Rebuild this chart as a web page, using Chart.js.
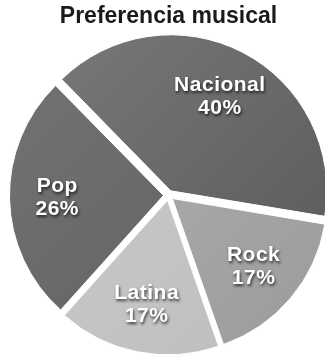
<!DOCTYPE html>
<html lang="es">
<head>
<meta charset="utf-8">
<title>Preferencia musical</title>
<script src="https://cdn.jsdelivr.net/npm/chart.js@4/dist/chart.umd.min.js"></script>
<style>
    html, body { margin: 0; padding: 0; overflow: hidden; background: #fff; }
    canvas { display: block; }
</style>
</head>
<body>
<canvas id="musicChart" width="337" height="359"></canvas>
<script>
// Data
const generos = ['Nacional', 'Rock', 'Latina', 'Pop'];
const porcentajes = [40, 17, 17, 26];

// Gray tones per slice: [light, dark] for a soft diagonal shading
const tonos = [
    ['#79797b', '#58585a'],
    ['#b3b3b3', '#9b9b9b'],
    ['#cdcdcd', '#bdbdbd'],
    ['#737373', '#5f5f5f']
];

const FONT = '"Liberation Sans", Arial, Helvetica, sans-serif';

function sliceFill(context) {
    const chart = context.chart;
    const area = chart.chartArea;
    if (!area) return tonos[context.dataIndex][0];
    const cx = (area.left + area.right) / 2;
    const cy = (area.top + area.bottom) / 2;
    const g = chart.ctx.createLinearGradient(cx - 150, cy - 150, cx + 150, cy + 150);
    g.addColorStop(0, tonos[context.dataIndex][0]);
    g.addColorStop(1, tonos[context.dataIndex][1]);
    return g;
}

// White labels with a dark drop shadow inside each slice
const sliceLabels = {
    id: 'sliceLabels',
    afterDatasetsDraw(chart) {
        const ctx = chart.ctx;
        const meta = chart.getDatasetMeta(0);
        ctx.save();
        ctx.font = 'bold 21px ' + FONT;
        ctx.letterSpacing = '0.5px';
        ctx.textAlign = 'center';
        ctx.textBaseline = 'middle';
        ctx.fillStyle = '#ffffff';
        ctx.shadowColor = 'rgba(0, 0, 0, 0.7)';
        ctx.shadowBlur = 3;
        ctx.shadowOffsetX = 1;
        ctx.shadowOffsetY = 2;
        meta.data.forEach((arc, i) => {
            const p = arc.getProps(['x', 'y', 'startAngle', 'endAngle', 'outerRadius'], true);
            const mid = (p.startAngle + p.endAngle) / 2;
            const dist = 5 + p.outerRadius * 0.69;
            const x = p.x + Math.cos(mid) * dist;
            const y = p.y + Math.sin(mid) * dist;
            ctx.fillText(generos[i], x, y - 11.5);
            ctx.fillText(porcentajes[i] + '%', x, y + 11.5);
        });
        ctx.restore();
    }
};

const ctx = document.getElementById('musicChart').getContext('2d');
new Chart(ctx, {
    type: 'pie',
    data: {
        labels: generos,
        datasets: [{
            data: porcentajes,
            backgroundColor: sliceFill,
            borderColor: '#ffffff',
            borderWidth: 1,
            offset: 20,
            clip: false
        }]
    },
    options: {
        responsive: false,
        animation: false,
        rotation: -44.5,
        radius: 154,
        layout: { padding: 0 },
        plugins: {
            legend: { display: false },
            tooltip: { enabled: false },
            title: {
                display: true,
                text: 'Preferencia musical',
                color: '#1a1a1a',
                font: { family: FONT, size: 23, weight: 'bold' },
                padding: { top: 3, bottom: 1 }
            }
        }
    },
    plugins: [sliceLabels]
});
</script>
</body>
</html>
